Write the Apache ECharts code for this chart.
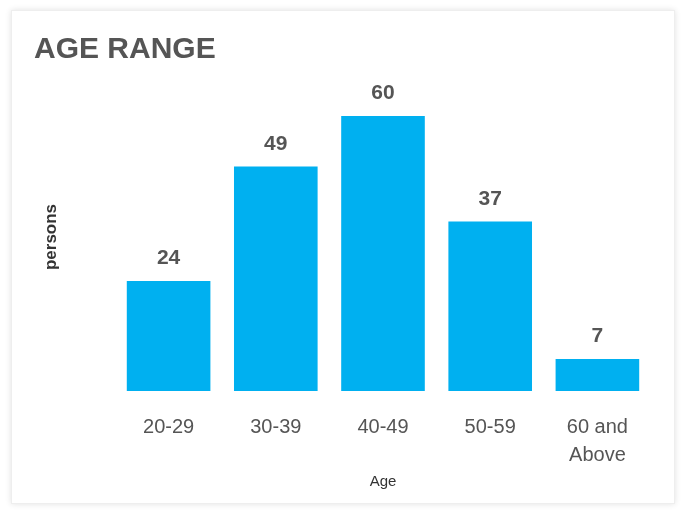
<!DOCTYPE html>
<html>
<head>
<meta charset="utf-8">
<script src="https://cdn.jsdelivr.net/npm/echarts@6/dist/echarts.min.js"></script>
<style>
  html, body { margin: 0; padding: 0; background: #fff; }
  .card {
    position: absolute; left: 11px; top: 10px; width: 662px; height: 492px;
    background: #fff; border: 1px solid #eeeeee;
    box-shadow: 0 0 6px rgba(0,0,0,0.12);
  }
  #chart { position: absolute; left: 0; top: 0; width: 681px; height: 510px; }
</style>
</head>
<body>
<div class="card"></div>
<div id="chart"></div>
<script>
// age buckets and head counts
const ageGroups = ['20-29', '30-39', '40-49', '50-59', '60 and\nAbove']
const persons = [24, 49, 60, 37, 7]

const chart = echarts.init(document.getElementById('chart'))

const option = {
  animation: false,
  title: {
    text: 'AGE RANGE',
    left: 29,
    top: 30,
    textStyle: {
      fontFamily: 'Liberation Sans',
      fontSize: 30,
      fontWeight: 'bold',
      color: '#555555'
    }
  },
  grid: {
    left: 115,
    right: 30,
    top: 116,
    bottom: 119
  },
  xAxis: {
    type: 'category',
    data: ageGroups,
    name: 'Age',
    nameLocation: 'middle',
    nameGap: 78,
    nameTextStyle: {
      fontFamily: 'Liberation Sans',
      fontSize: 15,
      color: '#333333'
    },
    axisLine: { show: false },
    axisTick: { show: false },
    axisLabel: {
      margin: 22,
      fontFamily: 'Liberation Sans',
      fontSize: 20,
      lineHeight: 28,
      color: '#555555'
    }
  },
  yAxis: {
    type: 'value',
    min: 0,
    max: 60,
    name: 'persons',
    nameLocation: 'middle',
    nameGap: 55,
    nameTextStyle: {
      fontFamily: 'Liberation Sans',
      fontSize: 17,
      fontWeight: 'bold',
      color: '#333333',
      padding: [0, 0, 0, 33]
    },
    axisLine: { show: false },
    axisTick: { show: false },
    axisLabel: { show: false },
    splitLine: { show: false }
  },
  series: [
    {
      type: 'bar',
      data: persons,
      barCategoryGap: '22%',
      itemStyle: { color: '#00B0F0' },
      label: {
        show: true,
        position: 'top',
        distance: 12,
        fontFamily: 'Liberation Sans',
        fontSize: 21,
        fontWeight: 'bold',
        color: '#555555'
      }
    }
  ]
}
chart.setOption(option)
</script>
</body>
</html>
